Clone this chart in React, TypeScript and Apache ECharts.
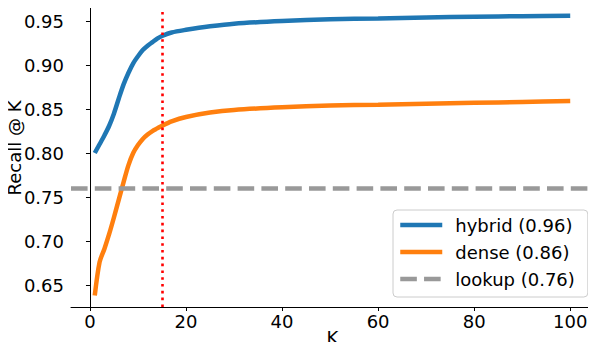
import React, { useEffect, useRef } from "react";
import * as echarts from "echarts";

const K_VALUES = [1, 2, 3, 4, 5, 6, 7, 8, 9, 10, 11, 12, 13, 14, 15, 17, 20, 25, 30, 40, 50, 60, 70, 80, 90, 100];
const HYBRID = [0.800, 0.810, 0.820, 0.831, 0.845, 0.862, 0.878, 0.891, 0.902, 0.910, 0.917, 0.922, 0.926, 0.930, 0.933, 0.937, 0.940, 0.944, 0.947, 0.950, 0.952, 0.953, 0.954, 0.955, 0.9555, 0.956];
const DENSE = [0.638, 0.676, 0.691, 0.708, 0.727, 0.747, 0.767, 0.786, 0.800, 0.809, 0.816, 0.821, 0.825, 0.828, 0.831, 0.836, 0.841, 0.846, 0.849, 0.852, 0.854, 0.855, 0.856, 0.857, 0.858, 0.859];
const LOOKUP = 0.764;
const K_MARK = 15;
const X_TICKS = [0, 20, 40, 60, 80, 100];
const Y_TICKS = [0.65, 0.7, 0.75, 0.8, 0.85, 0.9, 0.95];
const NAMES = ["hybrid (0.96)", "dense (0.86)", "lookup (0.76)"];

const FONT = "DejaVu Sans";
const FS = 18;

export default function App() {
  const ref = useRef<HTMLDivElement>(null);
  useEffect(() => {
    if (!ref.current) return;
    const chart = echarts.init(ref.current, null, { renderer: "svg" });
    chart.setOption({
      animation: false,
      textStyle: { fontFamily: FONT, color: "#000" },
      grid: { left: 71, right: 2, top: 3, bottom: 43, containLabel: false, outerBoundsMode: "none" },
      xAxis: {
        type: "value",
        min: -3.95,
        max: 104.95,
        name: "K",
        nameLocation: "middle",
        nameGap: 21,
        nameMoveOverlap: false,
        nameTextStyle: { fontFamily: FONT, fontSize: FS, color: "#000" },
        axisLine: { lineStyle: { color: "#000", width: 1 } },
        axisTick: { show: true, length: 4, lineStyle: { color: "#000" }, customValues: X_TICKS },
        axisLabel: { fontFamily: FONT, fontSize: FS, color: "#000", margin: 5, customValues: X_TICKS },
        splitLine: { show: false },
      },
      yAxis: {
        type: "value",
        min: 0.625,
        max: 0.9705,
        name: "Recall @ K",
        nameLocation: "middle",
        nameGap: 48,
        nameMoveOverlap: false,
        nameTextStyle: { fontFamily: FONT, fontSize: FS, color: "#000", padding: [0, 0, 0, 14] },
        axisLine: { show: true, lineStyle: { color: "#000", width: 1 } },
        axisTick: { show: true, length: 4, lineStyle: { color: "#000" }, customValues: Y_TICKS },
        axisLabel: {
          fontFamily: FONT,
          fontSize: FS,
          color: "#000",
          margin: 7,
          customValues: Y_TICKS,
          formatter: (v: number) => v.toFixed(2),
        },
        splitLine: { show: false },
      },
      legend: {
        left: 393,
        top: 210,
        orient: "vertical",
        data: NAMES,
        itemWidth: 42,
        itemHeight: 18,
        itemGap: 9,
        padding: [6, 13, 9, 5],
        itemStyle: { opacity: 0 },
        lineStyle: { width: 4.5 },
        backgroundColor: "rgba(255,255,255,0.8)",
        borderColor: "#cccccc",
        borderWidth: 1,
        borderRadius: 4,
        textStyle: { fontFamily: FONT, fontSize: FS, color: "#000", padding: [0, 0, 0, 8] },
      },
      series: [
        {
          name: NAMES[0],
          type: "line",
          data: K_VALUES.map((k, i) => [k, HYBRID[i]]),
          smooth: 0.3,
          symbol: "none",
          lineStyle: { color: "#1f77b4", width: 4.5 },
          itemStyle: { color: "#1f77b4" },
          z: 2,
        },
        {
          name: NAMES[1],
          type: "line",
          data: K_VALUES.map((k, i) => [k, DENSE[i]]),
          smooth: 0.3,
          symbol: "none",
          lineStyle: { color: "#ff7f0e", width: 4.5 },
          itemStyle: { color: "#ff7f0e" },
          z: 3,
        },
        {
          name: NAMES[2],
          type: "line",
          data: [],
          symbol: "none",
          lineStyle: { color: "#999999", width: 4.5, type: [16.6, 7.2] },
          itemStyle: { color: "#999999" },
          z: 4,
          markLine: {
            silent: true,
            symbol: "none",
            label: { show: false },
            data: [
              { yAxis: LOOKUP, lineStyle: { color: "#999999", width: 4.5, type: [16.6, 7.2], cap: "butt" } },
              { xAxis: K_MARK, lineStyle: { color: "#ff0000", width: 2.6, type: [2.6, 4.2], cap: "butt" } },
            ],
          },
        },
      ],
    });
    return () => chart.dispose();
  }, []);
  return <div ref={ref} style={{ width: 596, height: 350, margin: -8 }} />;
}
